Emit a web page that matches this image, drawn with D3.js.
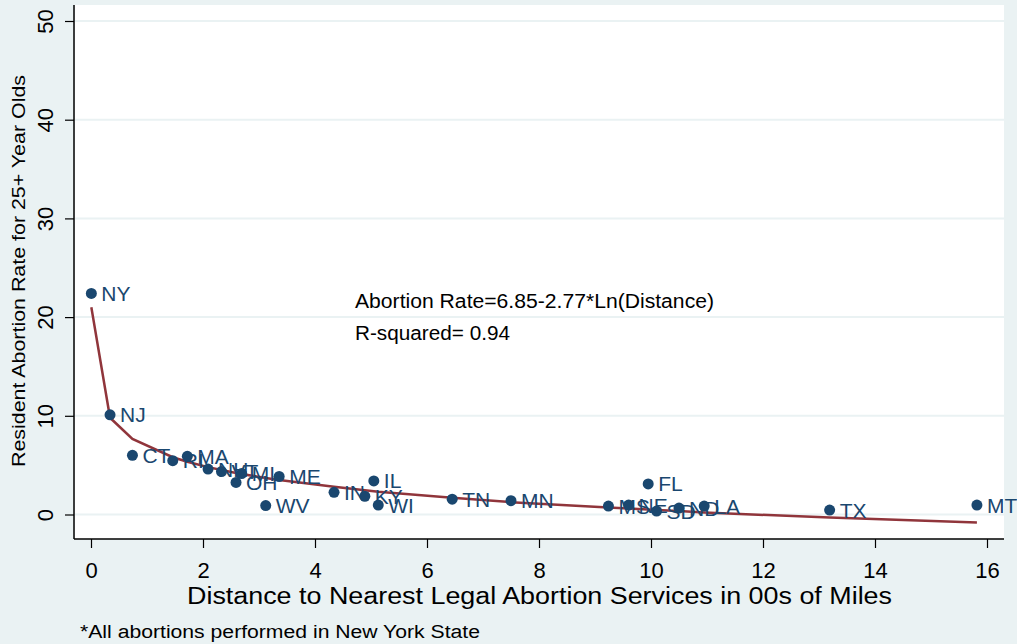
<!DOCTYPE html>
<html>
<head>
<meta charset="utf-8">
<script src="https://cdn.jsdelivr.net/npm/d3@7"></script>
<style>
  body { margin: 0; background: #eaf2f3; }
  svg { display: block; font-family: "Liberation Sans", Arial, sans-serif; }
</style>
</head>
<body>
<div id="chart"></div>
<script>
// states, distance (00s of miles) and resident abortion rate
const states = ['NY', 'NJ', 'CT', 'RI', 'MA', 'NH', 'VT', 'OH', 'MI', 'WV', 'ME', 'IN', 'KY', 'IL', 'WI',
  'TN', 'MN', 'MS', 'NE', 'FL', 'SD', 'ND', 'LA', 'TX', 'MT'];
const distance = [0.006, 0.34, 0.74, 1.46, 1.72, 2.09, 2.33, 2.59, 2.69, 3.12, 3.36, 4.34, 4.89, 5.05, 5.13,
  6.45, 7.5, 9.24, 9.6, 9.95, 10.1, 10.5, 10.95, 13.19, 15.82];
const rate = [22.4, 10.1, 6.0, 5.45, 5.9, 4.6, 4.35, 3.25, 4.15, 0.9, 3.85, 2.25, 1.85, 3.4, 0.95,
  1.55, 1.4, 0.85, 0.95, 3.1, 0.35, 0.65, 0.85, 0.45, 0.95];
// fitted values of the log fit line at each distance
const fitted = [21.0, 9.8, 7.65, 5.8, 5.35, 4.8, 4.5, 4.2, 4.1, 3.7, 3.5, 2.8, 2.45, 2.35, 2.3,
  1.7, 1.25, 0.7, 0.6, 0.5, 0.45, 0.35, 0.2, -0.3, -0.8];
const xTicks = [0, 2, 4, 6, 8, 10, 12, 14, 16];
const yTicks = [0, 10, 20, 30, 40, 50];

const width = 1017;
const height = 644;
const panel = { left: 75, right: 1004, top: 5, bottom: 539 };

const data = states.map((s, i) => ({
  state: s, distance: distance[i], rate: rate[i], fitted: fitted[i],
}));

const x = d3.scaleLinear().domain([0, 16]).range([91, 987]);
const y = d3.scaleLinear().domain([0, 50]).range([514.5, 21]);

const svg = d3.select('#chart')
  .append('svg')
  .attr('width', width)
  .attr('height', height);

svg.append('rect')
  .attr('width', width)
  .attr('height', height)
  .attr('fill', '#eaf2f3');

// plot region
svg.append('rect')
  .attr('x', panel.left)
  .attr('y', panel.top)
  .attr('width', panel.right - panel.left)
  .attr('height', panel.bottom - panel.top)
  .attr('fill', '#ffffff');

// gridlines
svg.append('g')
  .selectAll('line')
  .data(yTicks)
  .enter()
  .append('line')
  .attr('x1', panel.left)
  .attr('x2', panel.right)
  .attr('y1', (d) => y(d))
  .attr('y2', (d) => y(d))
  .attr('stroke', '#eaf2f3')
  .attr('stroke-width', 2);

// x axis
const xAxis = svg.append('g')
  .attr('transform', `translate(0, ${panel.bottom})`)
  .call(d3.axisBottom(x).tickValues(xTicks).tickSize(9).tickPadding(14).tickSizeOuter(0));
xAxis.select('.domain').remove();
xAxis.append('line')
  .attr('x1', panel.left - 1)
  .attr('x2', panel.right)
  .attr('stroke', '#000')
  .attr('stroke-width', 1.5);
xAxis.selectAll('.tick line').attr('stroke', '#000').attr('stroke-width', 1.2);
xAxis.selectAll('.tick text')
  .attr('fill', '#000')
  .style('font-size', '22px')
  .style('font-family', '"Liberation Sans", Arial, sans-serif');

// y axis
const yAxis = svg.append('g')
  .attr('transform', `translate(${panel.left - 1}, 0)`)
  .call(d3.axisLeft(y).tickValues(yTicks).tickSize(9).tickSizeOuter(0));
yAxis.select('.domain').remove();
yAxis.append('line')
  .attr('y1', panel.top)
  .attr('y2', panel.bottom)
  .attr('stroke', '#000')
  .attr('stroke-width', 1.5);
yAxis.selectAll('.tick line').attr('stroke', '#000').attr('stroke-width', 1.2);
yAxis.selectAll('.tick text')
  .attr('x', -29)
  .attr('dy', null)
  .attr('fill', '#000')
  .attr('text-anchor', 'middle')
  .attr('dominant-baseline', 'central')
  .attr('transform', 'rotate(-90, -29, 0)')
  .style('font-size', '22px')
  .style('font-family', '"Liberation Sans", Arial, sans-serif');

// axis titles
svg.append('text')
  .attr('x', 539.5)
  .attr('y', 604)
  .attr('text-anchor', 'middle')
  .attr('textLength', 705)
  .attr('lengthAdjust', 'spacingAndGlyphs')
  .style('font-size', '23px')
  .text('Distance to Nearest Legal Abortion Services in 00s of Miles');

svg.append('text')
  .attr('transform', 'translate(25, 271) rotate(-90)')
  .attr('text-anchor', 'middle')
  .attr('textLength', 392)
  .attr('lengthAdjust', 'spacingAndGlyphs')
  .style('font-size', '19px')
  .text('Resident Abortion Rate for 25+ Year Olds');

// fit line
const line = d3.line()
  .x((d) => x(d.distance))
  .y((d) => y(d.fitted));

svg.append('path')
  .datum(data)
  .attr('d', line)
  .attr('fill', 'none')
  .attr('stroke', '#90353b')
  .attr('stroke-width', 2.5);

// points and labels
const pts = svg.append('g')
  .selectAll('g')
  .data(data)
  .enter()
  .append('g')
  .attr('transform', (d) => `translate(${x(d.distance)}, ${y(d.rate)})`);

pts.append('circle')
  .attr('r', 5.5)
  .attr('fill', '#1a476f');

pts.append('text')
  .attr('x', 10)
  .attr('dominant-baseline', 'central')
  .attr('fill', '#1a476f')
  .style('font-size', '21px')
  .text((d) => d.state);

// annotation
svg.append('text')
  .attr('x', 355)
  .attr('y', 308)
  .attr('textLength', 359)
  .attr('lengthAdjust', 'spacingAndGlyphs')
  .style('font-size', '20px')
  .text('Abortion Rate=6.85-2.77*Ln(Distance)');

svg.append('text')
  .attr('x', 355)
  .attr('y', 340)
  .attr('textLength', 155)
  .attr('lengthAdjust', 'spacingAndGlyphs')
  .style('font-size', '20px')
  .text('R-squared= 0.94');

svg.append('text')
  .attr('x', 80)
  .attr('y', 638)
  .attr('textLength', 400)
  .attr('lengthAdjust', 'spacingAndGlyphs')
  .style('font-size', '18px')
  .text('*All abortions performed in New York State');
</script>
</body>
</html>
